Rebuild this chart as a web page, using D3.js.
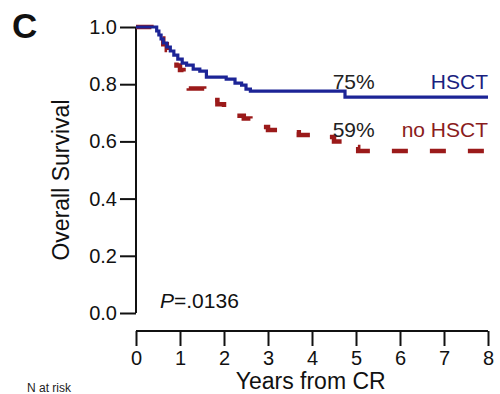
<!DOCTYPE html>
<html>
<head>
<meta charset="utf-8">
<script src="https://cdn.jsdelivr.net/npm/d3@7"></script>
<style>
  html, body { margin: 0; padding: 0; background: #fff; }
  svg { display: block; }
  text { font-family: "Liberation Sans", Arial, Helvetica, sans-serif; }
</style>
</head>
<body>
<div id="chart"></div>
<script>
// ---- Data ----
const hsctTime = [0, 0.47, 0.52, 0.57, 0.62, 0.70, 0.78, 0.86, 0.95, 1.05, 1.15, 1.30, 1.45, 1.60, 2.05, 2.25, 2.40, 2.50, 2.60, 4.75, 8.0];
const hsctSurv = [1.0, 0.986, 0.972, 0.958, 0.944, 0.930, 0.916, 0.902, 0.888, 0.874, 0.867, 0.853, 0.846, 0.825, 0.818, 0.804, 0.797, 0.783, 0.776, 0.755, 0.755];

const noHsctTime = [0, 0.35, 0.45, 0.55, 0.62, 0.70, 0.78, 0.85, 0.92, 1.00, 1.08, 1.20, 1.55, 1.70, 1.85, 2.00, 2.15, 2.30, 2.45, 2.60, 2.80, 3.00, 3.30, 3.70, 4.00, 4.50, 4.80, 5.05, 8.0];
const noHsctSurv = [1.0, 0.99, 0.975, 0.96, 0.94, 0.92, 0.90, 0.88, 0.865, 0.85, 0.83, 0.785, 0.77, 0.745, 0.73, 0.715, 0.70, 0.69, 0.68, 0.668, 0.65, 0.64, 0.632, 0.622, 0.615, 0.60, 0.58, 0.566, 0.566];

const xTicks = [0, 1, 2, 3, 4, 5, 6, 7, 8];
const yTicks = [0.0, 0.2, 0.4, 0.6, 0.8, 1.0];
const seriesNames = ["HSCT", "no HSCT"];
const seriesPct = ["75%", "59%"];
const pValueLabel = ".0136";

// ---- Layout ----
const W = 500, H = 394;
const svg = d3.select("#chart").append("svg").attr("width", W).attr("height", H);

const x = d3.scaleLinear().domain([0, 8]).range([136, 488]);
const y = d3.scaleLinear().domain([0, 1]).range([313, 27]);

const ink = "#111";

// Panel letter
svg.append("text").attr("x", 12).attr("y", 38)
  .attr("font-size", 35).attr("font-weight", "bold").attr("fill", ink).text("C");

// Y axis
const yAxis = svg.append("g").attr("transform", `translate(${x(0)},0)`)
  .call(d3.axisLeft(y).tickValues(yTicks).tickFormat(d3.format(".1f")).tickSize(16).tickPadding(3));
yAxis.select(".domain").attr("d", `M0,${y(0)}V${y(1)}`).attr("stroke", ink).attr("stroke-width", 2);
yAxis.selectAll(".tick line").attr("stroke", ink).attr("stroke-width", 2);
yAxis.selectAll(".tick text").attr("font-size", 20).attr("fill", ink)
  .attr("font-family", "Liberation Sans, Arial, sans-serif");

// X axis (offset below)
const xAxis = svg.append("g").attr("transform", `translate(0,331)`)
  .call(d3.axisBottom(x).tickValues(xTicks).tickFormat(d3.format("d")).tickSize(15).tickPadding(5));
xAxis.select(".domain").attr("d", `M${x(0)},0H${x(8)}`).attr("stroke", ink).attr("stroke-width", 2);
xAxis.selectAll(".tick line").attr("stroke", ink).attr("stroke-width", 2);
xAxis.selectAll(".tick text").attr("font-size", 20).attr("fill", ink)
  .attr("font-family", "Liberation Sans, Arial, sans-serif");

// Axis titles
svg.append("text")
  .attr("transform", `translate(69,${y(0.465)}) rotate(-90)`)
  .attr("text-anchor", "middle").attr("font-size", 23).attr("fill", ink)
  .text("Overall Survival");

svg.append("text")
  .attr("x", x(3.97)).attr("y", 389)
  .attr("text-anchor", "middle").attr("font-size", 23).attr("fill", ink)
  .text("Years from CR");

// Curves
const line = d3.line().x(d => x(d[0])).y(d => y(d[1])).curve(d3.curveStepAfter);
const noHsctData = noHsctTime.map((t, i) => [t, noHsctSurv[i]]);
const hsctData = hsctTime.map((t, i) => [t, hsctSurv[i]]);

svg.append("path").datum(noHsctData).attr("d", line)
  .attr("fill", "none").attr("stroke", "#9b1a1a").attr("stroke-width", 4.5)
  .attr("stroke-dasharray", "16,22");

svg.append("path").datum(hsctData).attr("d", line)
  .attr("fill", "none").attr("stroke", "#1c2496").attr("stroke-width", 3.2);

// Annotations
svg.append("text").attr("x", x(4.47)).attr("y", y(0.782))
  .attr("font-size", 21).attr("fill", "#222").text(seriesPct[0]);
svg.append("text").attr("x", x(8)).attr("y", y(0.782))
  .attr("text-anchor", "end").attr("font-size", 21).attr("fill", "#1a1f80").text(seriesNames[0]);
svg.append("text").attr("x", x(4.47)).attr("y", y(0.615))
  .attr("font-size", 21).attr("fill", "#222").text(seriesPct[1]);
svg.append("text").attr("x", x(8)).attr("y", y(0.615))
  .attr("text-anchor", "end").attr("font-size", 21).attr("fill", "#8a1c1c").text(seriesNames[1]);

// P value
const pText = svg.append("text").attr("x", 160).attr("y", 308).attr("font-size", 21).attr("fill", ink);
pText.append("tspan").attr("font-style", "italic").text("P");
pText.append("tspan").text("=" + pValueLabel);

// N at risk (at the bottom edge, kept fully visible)
svg.append("text").attr("x", 27).attr("y", 392)
  .attr("font-size", 12).attr("fill", "#222").text("N at risk");
</script>
</body>
</html>
